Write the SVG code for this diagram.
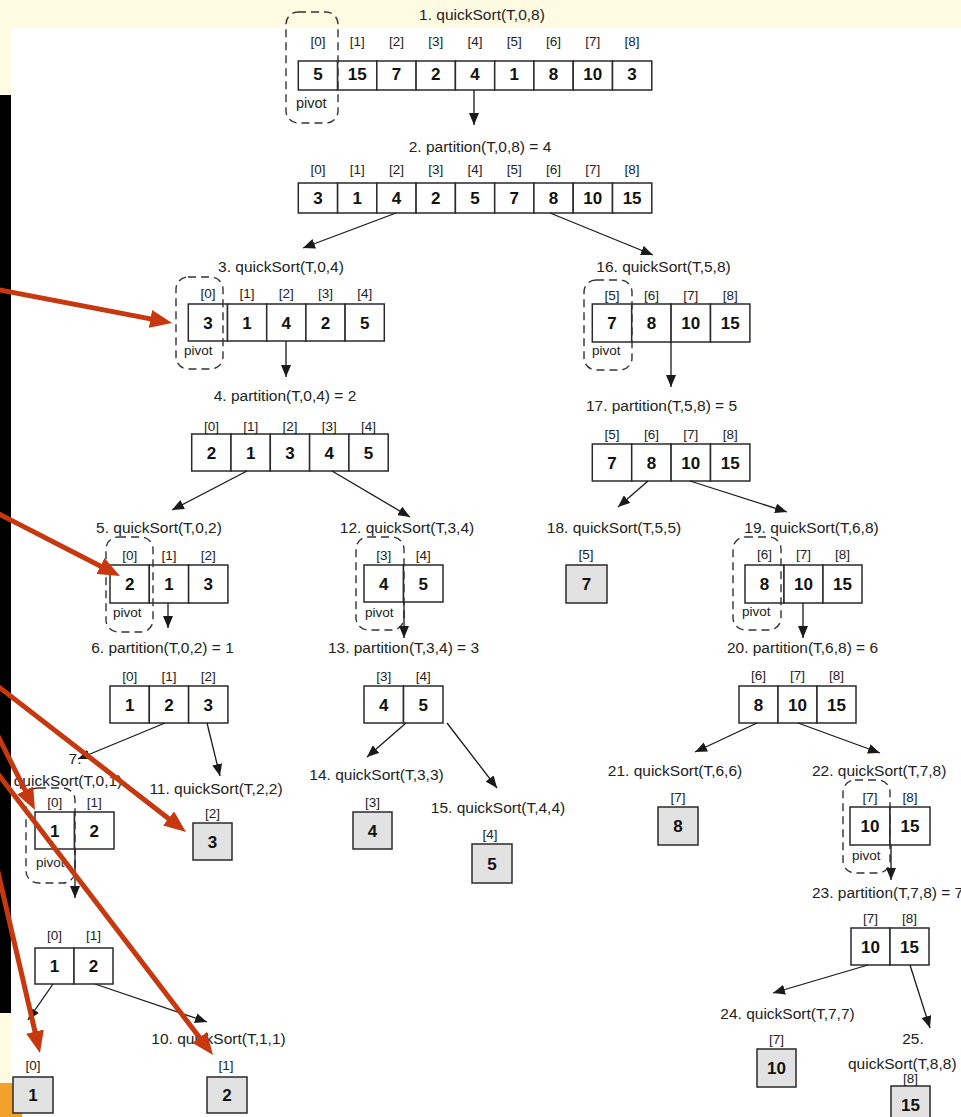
<svg xmlns="http://www.w3.org/2000/svg" width="961" height="1117" viewBox="0 0 961 1117">
<defs>
<style>
.bg{fill:#ffffff}
.cream{fill:#fffbe3}
.cell{fill:#ffffff;stroke:#2a2a2a;stroke-width:1.5}
.leaf{fill:#e2e2e2;stroke:#2a2a2a;stroke-width:1.5}
.piv{fill:none;stroke:#333;stroke-width:1.4;stroke-dasharray:8 5}
text{font-family:"Liberation Sans",Arial,sans-serif;fill:#222}
.t{font-size:15.5px;text-anchor:middle}
.ts{font-size:15.5px}
.i{font-size:13.5px;text-anchor:middle}
.v{font-size:17px;font-weight:bold;text-anchor:middle;fill:#111}
.p{font-size:13.5px}
.c{fill:none;stroke:#1a1a1a;stroke-width:1.3;marker-end:url(#ah)}
.r{fill:none;stroke:#c8380e;stroke-width:5;marker-end:url(#rh)}
</style>
<marker id="ah" markerUnits="userSpaceOnUse" markerWidth="12" markerHeight="10" refX="12" refY="5" orient="auto"><path d="M0,0 L12,5 L0,10 z" fill="#1a1a1a"/></marker>
<marker id="rh" markerUnits="userSpaceOnUse" markerWidth="22" markerHeight="18" refX="8" refY="9" orient="auto"><path d="M0,0 L22,9 L0,18 z" fill="#c8380e"/></marker>
</defs>
<rect class="bg" x="0" y="0" width="961" height="1117"/>
<rect class="cream" x="0" y="0" width="961" height="28"/>
<rect class="cream" x="0" y="0" width="11" height="1117"/>
<rect x="0" y="95" width="11" height="918" fill="#000"/>
<rect x="0" y="1083" width="22" height="34" fill="#f2a12c"/>

<g id="n1">
<text class="t" x="482" y="20">1. quickSort(T,0,8)</text>
<rect class="cell" x="298.3" y="61" width="39.3" height="29"/><rect class="cell" x="337.6" y="61" width="39.3" height="29"/><rect class="cell" x="376.8" y="61" width="39.3" height="29"/><rect class="cell" x="416.1" y="61" width="39.3" height="29"/><rect class="cell" x="455.4" y="61" width="39.3" height="29"/><rect class="cell" x="494.7" y="61" width="39.3" height="29"/><rect class="cell" x="533.9" y="61" width="39.3" height="29"/><rect class="cell" x="573.2" y="61" width="39.3" height="29"/><rect class="cell" x="612.5" y="61" width="39.3" height="29"/>
<text class="i" x="317.9" y="46">[0]</text><text class="i" x="357.2" y="46">[1]</text><text class="i" x="396.4" y="46">[2]</text><text class="i" x="435.7" y="46">[3]</text><text class="i" x="475" y="46">[4]</text><text class="i" x="514.3" y="46">[5]</text><text class="i" x="553.5" y="46">[6]</text><text class="i" x="592.8" y="46">[7]</text><text class="i" x="632.1" y="46">[8]</text>
<text class="v" x="317.9" y="80">5</text><text class="v" x="357.2" y="80">15</text><text class="v" x="396.4" y="80">7</text><text class="v" x="435.7" y="80">2</text><text class="v" x="475" y="80">4</text><text class="v" x="514.3" y="80">1</text><text class="v" x="553.5" y="80">8</text><text class="v" x="592.8" y="80">10</text><text class="v" x="632.1" y="80">3</text>
<rect class="piv" x="286" y="12" width="52" height="111" rx="12"/>
<text class="p" x="296" y="108" style="font-size:14.5px">pivot</text>
</g>

<g id="n2">
<text class="t" x="480" y="152">2. partition(T,0,8) = 4</text>
<rect class="cell" x="298.3" y="183" width="39.3" height="30"/><rect class="cell" x="337.6" y="183" width="39.3" height="30"/><rect class="cell" x="376.8" y="183" width="39.3" height="30"/><rect class="cell" x="416.1" y="183" width="39.3" height="30"/><rect class="cell" x="455.4" y="183" width="39.3" height="30"/><rect class="cell" x="494.7" y="183" width="39.3" height="30"/><rect class="cell" x="533.9" y="183" width="39.3" height="30"/><rect class="cell" x="573.2" y="183" width="39.3" height="30"/><rect class="cell" x="612.5" y="183" width="39.3" height="30"/>
<text class="i" x="317.9" y="174">[0]</text><text class="i" x="357.2" y="174">[1]</text><text class="i" x="396.4" y="174">[2]</text><text class="i" x="435.7" y="174">[3]</text><text class="i" x="475" y="174">[4]</text><text class="i" x="514.3" y="174">[5]</text><text class="i" x="553.5" y="174">[6]</text><text class="i" x="592.8" y="174">[7]</text><text class="i" x="632.1" y="174">[8]</text>
<text class="v" x="317.9" y="204">3</text><text class="v" x="357.2" y="204">1</text><text class="v" x="396.4" y="204">4</text><text class="v" x="435.7" y="204">2</text><text class="v" x="475" y="204">5</text><text class="v" x="514.3" y="204">7</text><text class="v" x="553.5" y="204">8</text><text class="v" x="592.8" y="204">10</text><text class="v" x="632.1" y="204">15</text>
</g>

<g id="n3">
<text class="t" x="281" y="272">3. quickSort(T,0,4)</text>
<rect class="cell" x="188.3" y="304" width="39.2" height="37"/><rect class="cell" x="227.5" y="304" width="39.2" height="37"/><rect class="cell" x="266.7" y="304" width="39.2" height="37"/><rect class="cell" x="305.9" y="304" width="39.2" height="37"/><rect class="cell" x="345.1" y="304" width="39.2" height="37"/>
<text class="i" x="207.9" y="298">[0]</text><text class="i" x="247.1" y="298">[1]</text><text class="i" x="286.3" y="298">[2]</text><text class="i" x="325.5" y="298">[3]</text><text class="i" x="364.7" y="298">[4]</text>
<text class="v" x="207.9" y="328.5">3</text><text class="v" x="247.1" y="328.5">1</text><text class="v" x="286.3" y="328.5">4</text><text class="v" x="325.5" y="328.5">2</text><text class="v" x="364.7" y="328.5">5</text>
<rect class="piv" x="176" y="277" width="47" height="92" rx="12"/>
<text class="p" x="184" y="355">pivot</text>
</g>

<g id="n4">
<text class="t" x="285" y="401">4. partition(T,0,4) = 2</text>
<rect class="cell" x="191.7" y="434" width="39.3" height="37"/><rect class="cell" x="231" y="434" width="39.3" height="37"/><rect class="cell" x="270.3" y="434" width="39.3" height="37"/><rect class="cell" x="309.6" y="434" width="39.3" height="37"/><rect class="cell" x="348.9" y="434" width="39.3" height="37"/>
<text class="i" x="211.4" y="431">[0]</text><text class="i" x="250.7" y="431">[1]</text><text class="i" x="290" y="431">[2]</text><text class="i" x="329.3" y="431">[3]</text><text class="i" x="368.6" y="431">[4]</text>
<text class="v" x="211.4" y="458.5">2</text><text class="v" x="250.7" y="458.5">1</text><text class="v" x="290" y="458.5">3</text><text class="v" x="329.3" y="458.5">4</text><text class="v" x="368.6" y="458.5">5</text>
</g>

<g id="n16">
<text class="t" x="663.5" y="272">16. quickSort(T,5,8)</text>
<rect class="cell" x="592.3" y="304" width="39.4" height="38"/><rect class="cell" x="631.7" y="304" width="39.4" height="38"/><rect class="cell" x="671.1" y="304" width="39.4" height="38"/><rect class="cell" x="710.5" y="304" width="39.4" height="38"/>
<text class="i" x="612" y="300">[5]</text><text class="i" x="651.4" y="300">[6]</text><text class="i" x="690.8" y="300">[7]</text><text class="i" x="730.2" y="300">[8]</text>
<text class="v" x="612" y="329">7</text><text class="v" x="651.4" y="329">8</text><text class="v" x="690.8" y="329">10</text><text class="v" x="730.2" y="329">15</text>
<rect class="piv" x="584" y="280" width="48" height="90" rx="12"/>
<text class="p" x="592" y="355">pivot</text>
</g>

<g id="n17">
<text class="t" x="661.5" y="411">17. partition(T,5,8) = 5</text>
<rect class="cell" x="592.3" y="444" width="39.4" height="37"/><rect class="cell" x="631.7" y="444" width="39.4" height="37"/><rect class="cell" x="671.1" y="444" width="39.4" height="37"/><rect class="cell" x="710.5" y="444" width="39.4" height="37"/>
<text class="i" x="612" y="439">[5]</text><text class="i" x="651.4" y="439">[6]</text><text class="i" x="690.8" y="439">[7]</text><text class="i" x="730.2" y="439">[8]</text>
<text class="v" x="612" y="468.5">7</text><text class="v" x="651.4" y="468.5">8</text><text class="v" x="690.8" y="468.5">10</text><text class="v" x="730.2" y="468.5">15</text>
</g>

<g id="n5">
<text class="t" x="159" y="533">5. quickSort(T,0,2)</text>
<rect class="cell" x="110" y="565" width="39.3" height="38"/><rect class="cell" x="149.3" y="565" width="39.3" height="38"/><rect class="cell" x="188.6" y="565" width="39.3" height="38"/>
<text class="i" x="129.7" y="560">[0]</text><text class="i" x="169" y="560">[1]</text><text class="i" x="208.3" y="560">[2]</text>
<text class="v" x="129.7" y="590">2</text><text class="v" x="169" y="590">1</text><text class="v" x="208.3" y="590">3</text>
<rect class="piv" x="106" y="537" width="47" height="95" rx="12"/>
<text class="p" x="113" y="617">pivot</text>
</g>

<g id="n6">
<text class="t" x="162.5" y="653">6. partition(T,0,2) = 1</text>
<rect class="cell" x="110" y="686" width="39.3" height="37"/><rect class="cell" x="149.3" y="686" width="39.3" height="37"/><rect class="cell" x="188.6" y="686" width="39.3" height="37"/>
<text class="i" x="129.7" y="681">[0]</text><text class="i" x="169" y="681">[1]</text><text class="i" x="208.3" y="681">[2]</text>
<text class="v" x="129.7" y="710.5">1</text><text class="v" x="169" y="710.5">2</text><text class="v" x="208.3" y="710.5">3</text>
</g>

<g id="n12">
<text class="t" x="407" y="533">12. quickSort(T,3,4)</text>
<rect class="cell" x="364" y="565" width="39.5" height="37"/><rect class="cell" x="403.5" y="565" width="39.5" height="37"/>
<text class="i" x="383.8" y="560">[3]</text><text class="i" x="423.3" y="560">[4]</text>
<text class="v" x="383.8" y="589.5">4</text><text class="v" x="423.3" y="589.5">5</text>
<rect class="piv" x="356" y="537" width="48" height="93" rx="12"/>
<text class="p" x="365" y="617">pivot</text>
</g>

<g id="n13">
<text class="t" x="403.5" y="653">13. partition(T,3,4) = 3</text>
<rect class="cell" x="364" y="686" width="39.5" height="37"/><rect class="cell" x="403.5" y="686" width="39.5" height="37"/>
<text class="i" x="383.8" y="681">[3]</text><text class="i" x="423.3" y="681">[4]</text>
<text class="v" x="383.8" y="710.5">4</text><text class="v" x="423.3" y="710.5">5</text>
</g>

<g id="n18">
<text class="t" x="614" y="533">18. quickSort(T,5,5)</text>
<text class="i" x="586" y="559">[5]</text>
<rect class="leaf" x="566" y="565" width="41" height="38"/>
<text class="v" x="586.5" y="590">7</text>
</g>

<g id="n19">
<text class="t" x="811.5" y="533">19. quickSort(T,6,8)</text>
<rect class="cell" x="745" y="565" width="39" height="38"/><rect class="cell" x="784" y="565" width="39" height="38"/><rect class="cell" x="823" y="565" width="39" height="38"/>
<text class="i" x="764.5" y="559">[6]</text><text class="i" x="803.5" y="559">[7]</text><text class="i" x="842.5" y="559">[8]</text>
<text class="v" x="764.5" y="590">8</text><text class="v" x="803.5" y="590">10</text><text class="v" x="842.5" y="590">15</text>
<rect class="piv" x="733" y="537" width="48" height="93" rx="12"/>
<text class="p" x="742" y="616">pivot</text>
</g>

<g id="n20">
<text class="t" x="802.5" y="653">20. partition(T,6,8) = 6</text>
<rect class="cell" x="739" y="686" width="39" height="37"/><rect class="cell" x="778" y="686" width="39" height="37"/><rect class="cell" x="817" y="686" width="39" height="37"/>
<text class="i" x="758.5" y="680">[6]</text><text class="i" x="797.5" y="680">[7]</text><text class="i" x="836.5" y="680">[8]</text>
<text class="v" x="758.5" y="710.5">8</text><text class="v" x="797.5" y="710.5">10</text><text class="v" x="836.5" y="710.5">15</text>
</g>

<g id="n7">
<text class="t" x="75" y="764">7.</text>
<text class="t" x="68" y="786">quickSort(T,0,1)</text>
<rect class="cell" x="35" y="812" width="39.5" height="37"/><rect class="cell" x="74.5" y="812" width="39.5" height="37"/>
<text class="i" x="54.8" y="807">[0]</text><text class="i" x="94.3" y="807">[1]</text>
<text class="v" x="54.8" y="836.5">1</text><text class="v" x="94.3" y="836.5">2</text>
<rect class="piv" x="26" y="788" width="49" height="95" rx="12"/>
<text class="p" x="36" y="867">pivot</text>
</g>

<g id="n8">
<rect class="cell" x="35" y="948" width="39" height="36"/><rect class="cell" x="74" y="948" width="39" height="36"/>
<text class="i" x="54.5" y="940">[0]</text><text class="i" x="93.5" y="940">[1]</text>
<text class="v" x="54.5" y="972">1</text><text class="v" x="93.5" y="972">2</text>
</g>

<g id="n9">
<text class="i" x="33" y="1070">[0]</text>
<rect class="leaf" x="13" y="1077" width="40" height="36"/>
<text class="v" x="33" y="1101">1</text>
</g>

<g id="n10">
<text class="t" x="218.5" y="1044">10. quickSort(T,1,1)</text>
<text class="i" x="226" y="1070">[1]</text>
<rect class="leaf" x="207" y="1077" width="40" height="36"/>
<text class="v" x="227" y="1101">2</text>
</g>

<g id="n11">
<text class="t" x="216" y="794">11. quickSort(T,2,2)</text>
<text class="i" x="212.5" y="818">[2]</text>
<rect class="leaf" x="193" y="823" width="39" height="37"/>
<text class="v" x="212.5" y="847.5">3</text>
</g>

<g id="n14">
<text class="t" x="376.5" y="780">14. quickSort(T,3,3)</text>
<text class="i" x="372.5" y="807">[3]</text>
<rect class="leaf" x="353" y="812" width="39" height="37"/>
<text class="v" x="372.5" y="836.5">4</text>
</g>

<g id="n15">
<text class="t" x="498" y="813">15. quickSort(T,4,4)</text>
<text class="i" x="490" y="839">[4]</text>
<rect class="leaf" x="472" y="844" width="40" height="39"/>
<text class="v" x="492" y="869.5">5</text>
</g>

<g id="n21">
<text class="t" x="675" y="776">21. quickSort(T,6,6)</text>
<text class="i" x="678" y="802">[7]</text>
<rect class="leaf" x="658" y="807" width="40" height="38"/>
<text class="v" x="678" y="832">8</text>
</g>

<g id="n22">
<text class="ts" x="812" y="776">22. quickSort(T,7,8)</text>
<rect class="cell" x="850" y="807" width="40" height="38"/><rect class="cell" x="890" y="807" width="40" height="38"/>
<text class="i" x="870" y="802">[7]</text><text class="i" x="910" y="802">[8]</text>
<text class="v" x="870" y="832">10</text><text class="v" x="910" y="832">15</text>
<rect class="piv" x="843" y="780" width="47" height="93" rx="12"/>
<text class="p" x="852" y="860">pivot</text>
</g>

<g id="n23">
<text class="ts" x="812" y="898">23. partition(T,7,8) = 7</text>
<rect class="cell" x="851" y="928" width="39" height="37"/><rect class="cell" x="890" y="928" width="39" height="37"/>
<text class="i" x="870.5" y="923">[7]</text><text class="i" x="909.5" y="923">[8]</text>
<text class="v" x="870.5" y="952.5">10</text><text class="v" x="909.5" y="952.5">15</text>
</g>

<g id="n24">
<text class="t" x="787.5" y="1019">24. quickSort(T,7,7)</text>
<text class="i" x="776.5" y="1044">[7]</text>
<rect class="leaf" x="757" y="1049" width="39" height="38"/>
<text class="v" x="776.5" y="1074">10</text>
</g>

<g id="n25">
<text class="t" x="913" y="1044">25.</text>
<text class="ts" x="848" y="1069">quickSort(T,8,8)</text>
<text class="i" x="910.5" y="1083">[8]</text>
<rect class="leaf" x="891" y="1086" width="39" height="38"/>
<text class="v" x="910.5" y="1111">15</text>
</g>

<g id="connectors">
<path class="c" d="M474,90 L474,125"/>
<path class="c" d="M396,213 L303,248"/>
<path class="c" d="M550,213 L653,255"/>
<path class="c" d="M286,341 L286,377"/>
<path class="c" d="M671,342 L671,387"/>
<path class="c" d="M247,471 L172,510"/>
<path class="c" d="M332,471 L410,517"/>
<path class="c" d="M648,481 L618,507"/>
<path class="c" d="M690,481 L787,512"/>
<path class="c" d="M168,603 L168,628"/>
<path class="c" d="M404,602 L404,638"/>
<path class="c" d="M803,603 L803,638"/>
<path class="c" d="M165,723 L78,759"/>
<path class="c" d="M207,723 L220,776"/>
<path class="c" d="M406,723 L367,757"/>
<path class="c" d="M447,723 L497,788"/>
<path class="c" d="M757,723 L695,752"/>
<path class="c" d="M798,723 L880,753"/>
<path class="c" d="M75,849 L75,898"/>
<path class="c" d="M53,984 L28,1020"/>
<path class="c" d="M95,984 L207,1022"/>
<path class="c" d="M891,845 L891,880"/>
<path class="c" d="M868,965 L773,993"/>
<path class="c" d="M910,965 L930,1028"/>
</g>

<g id="red-arrows">
<path class="r" d="M-5,289 L158.3,320.4"/>
<path class="r" d="M-5,512 L107.5,569.7"/>
<path class="r" d="M-5,684 L174.9,823.4"/>
<path class="r" d="M-5,770 L204.5,1043.9"/>
<path class="r" d="M-5,730 L28.7,797.5"/>
<path class="r" d="M-3,868 L36.8,1039.4"/>
</g>
</svg>
